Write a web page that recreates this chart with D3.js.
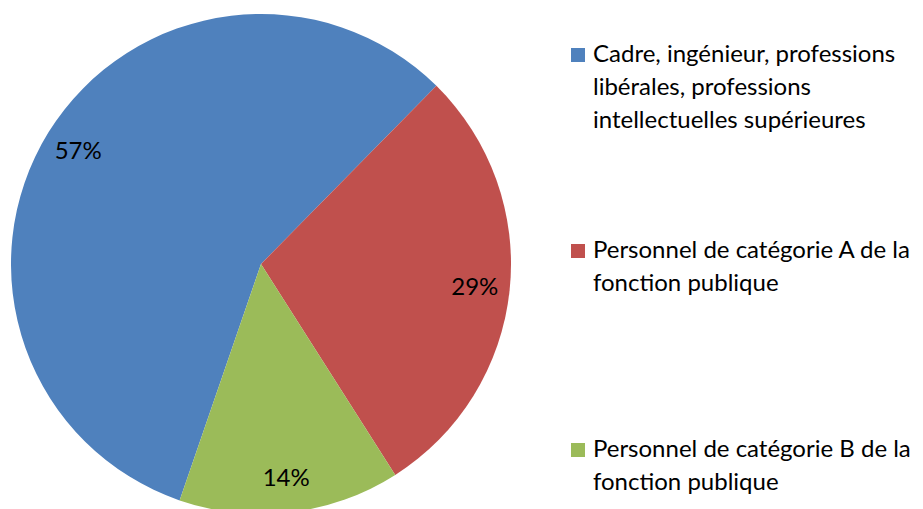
<!DOCTYPE html>
<html>
<head>
<meta charset="utf-8">
<script src="https://cdn.jsdelivr.net/npm/d3@7"></script>
<style>
  html, body { margin: 0; padding: 0; background: #fff; }
  text { font-family: Lato, "Open Sans", sans-serif; fill: #000; }
</style>
</head>
<body>
<script>
// chart data
const categories = [
  "Cadre, ingénieur, professions libérales, professions intellectuelles supérieures",
  "Personnel de catégorie A de la fonction publique",
  "Personnel de catégorie B de la fonction publique",
];
const legendLines = [
  ["Cadre, ingénieur, professions", "libérales, professions", "intellectuelles supérieures"],
  ["Personnel de catégorie A de la", "fonction publique"],
  ["Personnel de catégorie B de la", "fonction publique"],
];
const values = [57.1, 28.6, 14.3];
const colors = ["#4F81BD", "#C0504D", "#9BBB59"];

const width = 923;
const height = 509;
const cx = 261;
const cy = 264;
const radius = 250;
const fontSize = 24;

const svg = d3
  .select("body")
  .append("svg")
  .attr("width", width)
  .attr("height", height);

svg.append("rect").attr("width", width).attr("height", height).attr("fill", "white");

const start = (199 * Math.PI) / 180; // first slice begins past 6 o'clock
const pie = d3.pie().sort(null).startAngle(start).endAngle(start + 2 * Math.PI);
const arcs = pie(values);

const arc = d3.arc().innerRadius(0).outerRadius(radius);
const labelArc = d3.arc().innerRadius(215).outerRadius(215);

const g = svg.append("g").attr("transform", `translate(${cx},${cy})`);

g.selectAll("path")
  .data(arcs)
  .enter()
  .append("path")
  .attr("d", arc)
  .attr("fill", (d, i) => colors[i]);

const total = d3.sum(values);
g.selectAll(".pct")
  .data(arcs)
  .enter()
  .append("text")
  .attr("class", "pct")
  .attr("transform", (d) => `translate(${labelArc.centroid(d)})`)
  .attr("text-anchor", "middle")
  .attr("dy", "0.36em")
  .style("font-size", fontSize + "px")
  .text((d) => Math.round((d.value / total) * 100) + "%");

// legend
const legendBase = [62, 258, 457];
const lineGap = 33;
const legend = svg
  .selectAll(".legend")
  .data(categories)
  .enter()
  .append("g")
  .attr("class", "legend")
  .attr("transform", (d, i) => `translate(571,${legendBase[i]})`);

legend
  .append("rect")
  .attr("x", 0)
  .attr("y", -14)
  .attr("width", 14)
  .attr("height", 14)
  .attr("fill", (d, i) => colors[i]);

legend
  .append("text")
  .style("font-size", fontSize + "px")
  .each(function (d, i) {
    d3.select(this)
      .selectAll("tspan")
      .data(legendLines[i])
      .enter()
      .append("tspan")
      .attr("x", 22)
      .attr("y", (t, j) => j * lineGap)
      .text((t) => t);
  });
</script>
</body>
</html>
